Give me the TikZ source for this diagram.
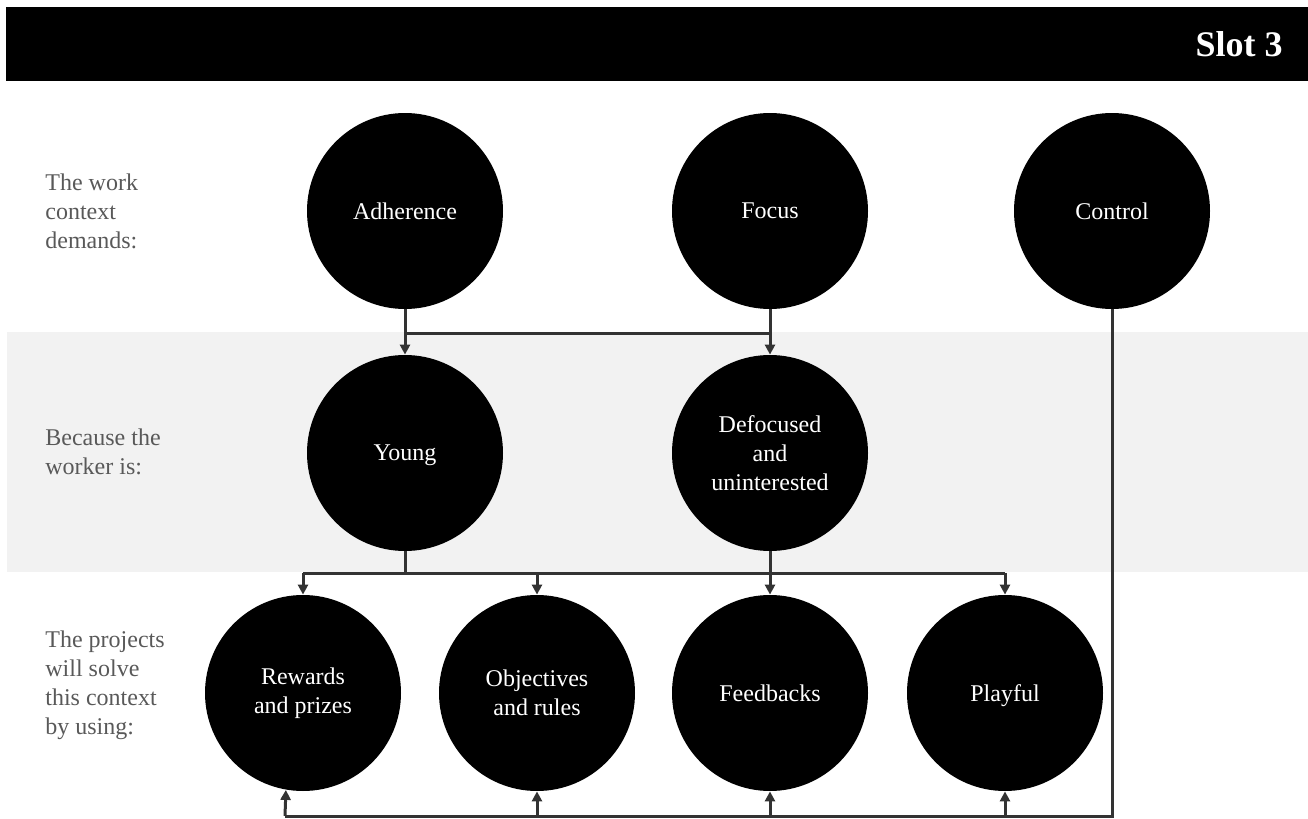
\documentclass[tikz,border=0pt]{standalone}
\usepackage{fontspec}
\setmainfont{Liberation Serif}
\usetikzlibrary{arrows.meta}

\begin{document}
\begin{tikzpicture}[
			x=0.5pt, y=-0.5pt,
			bubble/.style={circle, fill=black, text=white, minimum size=98pt, inner sep=0pt, align=center, font=\fontsize{12}{14.5}\selectfont},
			oneline/.style={text depth=0pt},
			rowlabel/.style={anchor=west, align=left, text=black!65, inner sep=0pt, font=\fontsize{12}{14.5}\selectfont},
			link/.style={draw=black!80, line width=1.5pt},
			arrow/.style={link, -{Triangle[length=5pt,width=5pt]}}
		]
		\useasboundingbox (0,0) rectangle (1308,819);
		\fill[black!5] (7,332) rectangle (1308,572);
		\fill[black] (6,7) rectangle (1308,81);
		\node[anchor=east, text=white, inner sep=0pt, font=\fontsize{18}{20}\selectfont\bfseries] (title) at (1283,44) {Slot 3};

		\node[rowlabel] (lbl1) at (45,211) {The work\\context\\demands:};
		\node[rowlabel] (lbl2) at (45,452) {Because the\\worker is:};
		\node[rowlabel] (lbl3) at (45,685) {The projects\\will solve\\this context\\by using:};

		\node[bubble, oneline] (adh) at (405,211) {Adherence};
		\node[bubble, oneline] (focus) at (770,211) {Focus};
		\node[bubble, oneline] (ctrl) at (1112,211) {Control};
		\node[bubble, oneline] (young) at (405,453) {Young};
		\node[bubble] (defoc) at (770,453) {Defocused\\and\\uninterested};
		\node[bubble] (rew) at (303,693) {Rewards\\and prizes};
		\node[bubble] (obj) at (537,693) {Objectives\\and rules};
		\node[bubble, oneline] (feed) at (770,693) {Feedbacks};
		\node[bubble, oneline] (play) at (1005,693) {Playful};

		\coordinate (merge) at (405,333);
		\coordinate (split) at (405,573);
		\coordinate (back) at (285,816);

		\draw[arrow] (adh) -- (young);
		\draw[arrow] (focus) -- (defoc);
		\draw[link] (merge) -- (focus.south |- merge);

		\draw[link] (young.south) -- (split);
		\draw[link] (defoc.south) -- (defoc.south |- split);
		\draw[link] (rew.north |- split) -- (play.north |- split);
		\foreach \n in {rew,obj,feed,play}
			\draw[arrow] (\n.north |- split) -- (\n.north);

		\draw[link] (ctrl.south) |- (back);
		\draw[arrow] (back) -- (rew.-100.6);
		\foreach \n in {obj,feed,play}
			\draw[arrow] (\n.south |- back) -- (\n.south);
	\end{tikzpicture}
\end{document}
